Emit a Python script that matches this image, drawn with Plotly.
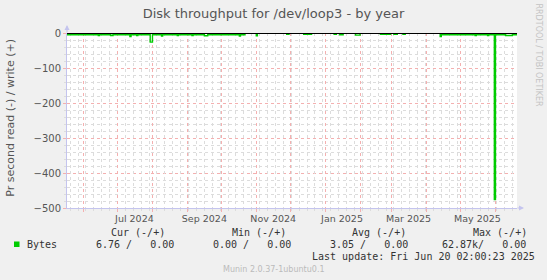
import plotly.graph_objects as go

# ---------------- data ----------------
x_start = "2024-05-17 06:00"
x_end = "2025-06-20 02:00"

# read throughput (bytes/s), plotted as negative values; step breakpoints
read_dates = [
    "2024-05-17 06:00", "2024-06-14", "2024-06-15", "2024-06-25", "2024-06-27",
    "2024-07-12", "2024-07-13", "2024-07-18", "2024-07-19", "2024-07-30", "2024-08-01",
    "2024-08-09", "2024-08-10", "2024-08-23", "2024-08-24", "2024-09-05", "2024-09-06",
    "2024-09-16", "2024-09-19", "2024-10-17", "2024-10-18", "2024-10-22",
    "2024-11-01", "2024-11-02", "2024-11-28", "2024-11-30",
    "2024-12-13", "2024-12-20", "2025-01-09", "2025-01-11", "2025-01-14", "2025-01-17",
    "2025-01-28", "2025-02-01", "2025-02-19", "2025-02-24", "2025-02-25", "2025-02-28",
    "2025-03-03", "2025-03-06", "2025-03-11", "2025-03-13",
    "2025-04-13", "2025-04-14", "2025-05-14", "2025-05-15", "2025-05-25", "2025-05-26",
    "2025-05-31", "2025-06-01", "2025-06-10", "2025-06-16", "2025-06-20 02:00",
]
read_bytes = [
    5, 7, 5, 7, 5,
    10, 5, 7, 5, 26, 5,
    9, 5, 7, 5, 7, 5,
    8, 5, 9, 5, 0,
    8, 0, 4, 0,
    4, 0, 4, 0, 5, 0,
    6, 0, 4, 0, 4, 0,
    4, 0, 4, 0,
    10, 5, 7, 5, 7, 5,
    476, 5, 7, 5, 5,
]
write_dates = [x_start, x_end]
write_bytes = [0, 0]
zero_rule = 0

y_tick_vals = [0, -100, -200, -300, -400, -500]
month_label_dates = ["2024-07-16", "2024-09-16", "2024-11-16",
                     "2025-01-16", "2025-03-16", "2025-05-16"]
month_labels = ["Jul 2024", "Sep 2024", "Nov 2024", "Jan 2025", "Mar 2025", "May 2025"]

legend_name = "Bytes"
legend_headers = ["Cur (-/+)", "Min (-/+)", "Avg (-/+)", "Max (-/+)"]
legend_values = ["6.76 /   0.00", "0.00 /   0.00", "3.05 /   0.00", "62.87k/   0.00"]
last_update = "Last update: Fri Jun 20 02:00:23 2025"
version_text = "Munin 2.0.37-1ubuntu0.1"
title_text = "Disk throughput for /dev/loop3 - by year"
y_title = "Pr second read (-) / write (+)"
side_text = "RRDTOOL / TOBI OETIKER"

# ---------------- style / layout ----------------
W, H = 547, 280
L, R, T, B = 67, 30, 33, 72
PW, PH = W - L - R, H - T - B
GREEN = "#00CC00"
AXIS = "#c4c4ee"
RED_GRID = "#f4b0b0"
GRAY_GRID = "#dcdcdc"
SANS = "DejaVu Sans"
MONO = "DejaVu Sans Mono"


def px_x(px):
    return (px - L) / PW


def px_y(py):
    return (H - B - py) / PH


fig = go.Figure()
fig.add_trace(go.Scatter(x=read_dates, y=[-v for v in read_bytes], mode="lines",
                         line=dict(color=GREEN, width=1.4, shape="hv"),
                         hoverinfo="skip", showlegend=False))
fig.add_trace(go.Scatter(x=write_dates, y=write_bytes, mode="lines",
                         line=dict(color=GREEN, width=1.4, shape="hv"),
                         hoverinfo="skip", showlegend=False))
fig.add_trace(go.Scatter(x=[x_start, x_end], y=[zero_rule, zero_rule], mode="lines",
                         line=dict(color="#000000", width=2),
                         hoverinfo="skip", showlegend=False))
# invisible helpers so the overlay grid axes get drawn
fig.add_trace(go.Scatter(x=[x_start], y=[-250], xaxis="x2", mode="markers",
                         marker=dict(opacity=0), hoverinfo="skip", showlegend=False))
fig.add_trace(go.Scatter(x=[x_start], y=[-250], xaxis="x3", mode="markers",
                         marker=dict(opacity=0), hoverinfo="skip", showlegend=False))

annotations = []
annotations.append(dict(text=y_title, x=px_x(9.7), y=px_y(118), xref="paper", yref="paper",
                        textangle=-90, showarrow=False, font=dict(family=SANS, size=11, color="#555"),
                        xanchor="center", yanchor="middle"))
annotations.append(dict(text=side_text, x=px_x(537.5), y=px_y(55), xref="paper", yref="paper",
                        textangle=90, showarrow=False, font=dict(family=SANS, size=8, color="#c4c4c4"),
                        xanchor="center", yanchor="middle"))
header_x = [111, 232, 352, 473]
value_x = [96, 213.3, 330, 441.7]
for hx, ht in zip(header_x, legend_headers):
    annotations.append(dict(text=ht.replace(" ", "&nbsp;"), x=px_x(hx), y=px_y(232), xref="paper", yref="paper",
                            showarrow=False, xanchor="left", yanchor="middle", borderpad=0, borderwidth=0,
                            font=dict(family=MONO, size=10, color="#333")))
for vx, vt in zip(value_x, legend_values):
    annotations.append(dict(text=vt.replace(" ", "&nbsp;"), x=px_x(vx), y=px_y(244), xref="paper", yref="paper",
                            showarrow=False, xanchor="left", yanchor="middle", borderpad=0, borderwidth=0,
                            font=dict(family=MONO, size=10, color="#333")))
annotations.append(dict(text=legend_name, x=px_x(27), y=px_y(244), xref="paper", yref="paper",
                        showarrow=False, xanchor="left", yanchor="middle", borderpad=0, borderwidth=0,
                        font=dict(family=MONO, size=10, color="#333")))
annotations.append(dict(text=last_update.replace(" ", "&nbsp;"), x=px_x(312), y=px_y(256.7), xref="paper", yref="paper",
                        showarrow=False, xanchor="left", yanchor="middle", borderpad=0, borderwidth=0,
                        font=dict(family=MONO, size=10, color="#333")))
annotations.append(dict(text=version_text, x=px_x(223), y=px_y(269), xref="paper", yref="paper",
                        showarrow=False, xanchor="left", yanchor="middle", borderpad=0, borderwidth=0,
                        font=dict(family=SANS, size=8, color="#bbbbbb")))
annotations.append(dict(text="", x=0, y=px_y(25), xref="paper", yref="paper", ax=0, ay=9,
                        showarrow=True, arrowhead=2, arrowsize=1, arrowwidth=1, arrowcolor=AXIS))
annotations.append(dict(text="", x=px_x(524), y=0, xref="paper", yref="paper", ax=-8, ay=0,
                        showarrow=True, arrowhead=2, arrowsize=1, arrowwidth=1, arrowcolor=AXIS))

shapes = [dict(type="rect", xref="paper", yref="paper", x0=px_x(14), x1=px_x(19.5),
               y0=px_y(247), y1=px_y(241.5), fillcolor=GREEN, line=dict(width=0))]

fig.update_layout(
    width=W, height=H, margin=dict(l=L, r=R, t=T, b=B, pad=0),
    paper_bgcolor="#F0F0F0", plot_bgcolor="#FFFFFF",
    showlegend=False,
    title=dict(text=title_text, x=0.5, xanchor="center", xref="container",
               y=1 - 13 / H, yanchor="middle", yref="container",
               font=dict(family=SANS, size=13, color="#555")),
    xaxis=dict(type="date", range=[x_start, x_end], showgrid=False, zeroline=False,
               tickmode="array", tickvals=month_label_dates, ticktext=month_labels,
               ticks="", showline=True, linecolor=AXIS, linewidth=1,
               tickfont=dict(family=SANS, size=9.5, color="#555"), ticklabelstandoff=2),
    xaxis2=dict(type="date", range=[x_start, x_end], overlaying="x", anchor="y", side="bottom",
                showgrid=True, gridcolor=GRAY_GRID, griddash="dot", gridwidth=1,
                tickmode="linear", tick0="2024-05-20", dtick=7 * 86400000,
                showticklabels=False, ticks="outside", ticklen=2, tickcolor=GRAY_GRID,
                zeroline=False, showline=False),
    xaxis3=dict(type="date", range=[x_start, x_end], overlaying="x", anchor="y", side="bottom",
                showgrid=True, gridcolor=RED_GRID, griddash="dot", gridwidth=1,
                tickmode="linear", tick0="2024-06-01", dtick="M1",
                showticklabels=False, ticks="outside", ticklen=3, tickcolor=RED_GRID,
                zeroline=False, showline=False),
    yaxis=dict(range=[-500, 0], tickmode="array", tickvals=y_tick_vals,
               showgrid=True, gridcolor=RED_GRID, griddash="dot", gridwidth=1,
               zeroline=False, showline=True, linecolor=AXIS, linewidth=1,
               ticks="outside", ticklen=3, tickcolor=RED_GRID,
               tickfont=dict(family=SANS, size=10, color="#555"),
               minor=dict(tickmode="linear", tick0=0, dtick=20, showgrid=True, gridcolor=GRAY_GRID,
                          griddash="dot", ticks="outside", ticklen=2, tickcolor=GRAY_GRID)),
    annotations=annotations, shapes=shapes,
)

fig.write_html("out.html")
